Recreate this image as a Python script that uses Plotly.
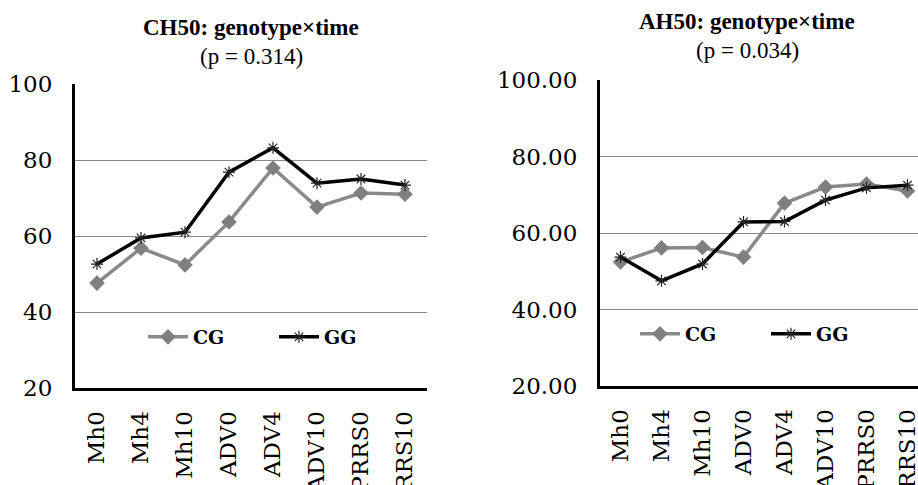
import plotly.graph_objects as go

categories = ["Mh0", "Mh4", "Mh10", "ADV0", "ADV4", "ADV10", "PRRS0", "PRRS10"]
ch50_cg = [47.6, 56.8, 52.4, 63.7, 77.9, 67.6, 71.3, 71.0]
ch50_gg = [52.6, 59.5, 61.0, 76.8, 83.2, 73.9, 75.0, 73.4]
ah50_cg = [52.4, 56.1, 56.2, 53.7, 67.8, 72.0, 72.8, 71.0]
ah50_gg = [53.7, 47.5, 51.9, 62.9, 63.0, 68.6, 71.8, 72.5]
y_tick_vals = [20, 40, 60, 80, 100]
left_tick_text = ["20", "40", "60", "80", "100"]
right_tick_text = ["20.00", "40.00", "60.00", "80.00", "100.00"]
series_names = ["CG", "GG"]
titles = ["CH50: genotype×time", "AH50: genotype×time"]
subtitles = ["(p = 0.314)", "(p = 0.034)"]

W, H = 918, 485
GRAY = "#8a8a8a"
TICK_FONT = dict(family="DejaVu Serif", size=23, color="black")
LEG_FONT = dict(family="DejaVu Serif", size=19, color="black", weight="bold")

fig = go.Figure()


def add_pair(cg, gg, xa, ya, leg):
    fig.add_trace(go.Scatter(
        x=categories, y=cg, name=series_names[0], mode="lines+markers",
        line=dict(color=GRAY, width=3.5),
        marker=dict(symbol="diamond", size=12, color="#7f7f7f"),
        xaxis=xa, yaxis=ya, legend=leg))
    fig.add_trace(go.Scatter(
        x=categories, y=gg, name=series_names[1], mode="lines+markers",
        line=dict(color="black", width=3.5),
        marker=dict(symbol="asterisk-open", size=10, color="#222222",
                    line=dict(color="#222222", width=1.2)),
        xaxis=xa, yaxis=ya, legend=leg))


add_pair(ch50_cg, ch50_gg, "x", "y", "legend")
add_pair(ah50_cg, ah50_gg, "x2", "y2", "legend2")

xcommon = dict(type="category", showline=True, linecolor="black", linewidth=3,
               showgrid=False, ticks="", tickangle=-90, tickfont=TICK_FONT,
               ticklabelstandoff=11, automargin=False, zeroline=False)
ycommon = dict(range=[20, 100], tickvals=y_tick_vals, showline=True,
               linecolor="black", linewidth=3, showgrid=True,
               gridcolor=GRAY, gridwidth=1.3, ticks="", tickfont=TICK_FONT,
               ticklabelstandoff=15, automargin=False, zeroline=False)

legend_common = dict(orientation="h", xanchor="left", yanchor="middle",
                     bgcolor="rgba(0,0,0,0)", font=LEG_FONT,
                     entrywidth=76, itemwidth=40)

fig.update_layout(
    width=W, height=H,
    autosize=False,
    template="none",
    paper_bgcolor="white", plot_bgcolor="white",
    margin=dict(l=0, r=0, t=0, b=0),
    xaxis=dict(domain=[75 / W, 427 / W], range=[-0.5, 7.5], **xcommon),
    yaxis=dict(domain=[1 - 388 / H, 1 - 84 / H], ticktext=left_tick_text,
               anchor="x", **ycommon),
    xaxis2=dict(domain=[600 / W, 1.0], range=[-0.5, 7.256], anchor="y2",
                **xcommon),
    yaxis2=dict(domain=[1 - 386 / H, 1 - 80 / H], ticktext=right_tick_text,
                anchor="x2", **ycommon),
    legend=dict(x=143 / W, y=1 - 337 / H, **legend_common),
    legend2=dict(x=635 / W, y=1 - 334 / H, **legend_common),
    showlegend=True,
)

title_centers = [251, 747]
title_ys = [27, 22]
for i in range(2):
    fig.add_annotation(text="<b>" + titles[i] + "</b>", xref="paper", yref="paper",
                       x=title_centers[i] / W, y=1 - title_ys[i] / H,
                       xanchor="center", yanchor="middle", showarrow=False,
                       font=dict(family="Liberation Serif", size=23, color="black"))
    fig.add_annotation(text=subtitles[i], xref="paper", yref="paper",
                       x=title_centers[i] / W, y=1 - (title_ys[i] + 29) / H,
                       xanchor="center", yanchor="middle", showarrow=False,
                       font=dict(family="Liberation Serif", size=23, color="black"))

fig.write_html("out.html", config={"displayModeBar": False},
               post_script="document.body.style.margin='0px';")
